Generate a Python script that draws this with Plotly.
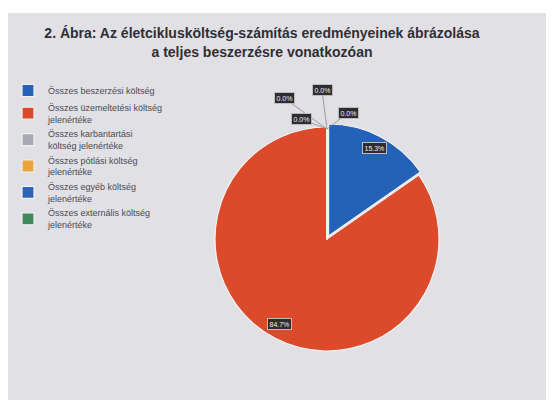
import math
import plotly.graph_objects as go

categories = [
    "Összes beszerzési költség",
    "Összes üzemeltetési költség<br>jelenértéke",
    "Összes karbantartási<br>költség jelenértéke",
    "Összes pótlási költség<br>jelenértéke",
    "Összes egyéb költség<br>jelenértéke",
    "Összes externális költség<br>jelenértéke",
]
values = [15.3, 84.7, 0.0, 0.0, 0.0, 0.0]
colors = ["#2462b8", "#dc4a2c", "#a9a9b3", "#eba23a", "#2f63b5", "#3f8a5a"]
title_text = ("2. Ábra: Az életciklusköltség-számítás eredményeinek ábrázolása"
              "<br>a teljes beszerzésre vonatkozóan")

W, H = 557, 406
cx, cy, R = 319, 231, 112
pull = 0.03
half = R * (1 + pull)

fig = go.Figure(go.Pie(
    labels=categories,
    values=values,
    sort=False,
    direction="clockwise",
    rotation=0,
    pull=[pull, 0, 0, 0, 0, 0],
    marker=dict(colors=colors, line=dict(color="#f2f2f4", width=1.2)),
    textinfo="none",
    hoverinfo="label+percent",
    domain=dict(x=[(cx - half) / W, (cx + half) / W],
                y=[(H - cy - half) / H, (H - cy + half) / H]),
))

annotations = []
total = sum(values)
start = 0.0
label_box = dict(bgcolor="#2e2c2e", bordercolor="#bdbdbd", borderwidth=1,
                 font=dict(size=7, color="#f0f0f0", family="Liberation Sans"),
                 borderpad=1.5)
zero_offsets = [(-43, -31), (-5, -39), (-26, -10), (21, -16)]
zi = 0
for v in values:
    frac = v / total
    if v > 0:
        mid = (start + frac / 2) * 2 * math.pi
        r = 0.92 * R
        px = cx + r * math.sin(mid)
        py = cy - r * math.cos(mid)
        annotations.append(dict(x=px / W, y=1 - py / H, xref="paper", yref="paper",
                                text=f"{v/total*100:.1f}%", showarrow=False, **label_box))
    else:
        ax, ay = zero_offsets[zi]
        zi += 1
        annotations.append(dict(x=cx / W, y=1 - (cy - R + 2) / H, xref="paper", yref="paper",
                                text=f"{v:.1f}%", showarrow=True, arrowhead=0,
                                arrowwidth=0.8, arrowcolor="#8a8a8a", ax=ax, ay=ay,
                                **label_box))
    start += frac

fig.update_layout(
    width=W, height=H,
    margin=dict(l=0, r=0, t=0, b=0),
    paper_bgcolor="#ffffff",
    title=dict(text=title_text, x=0.456, xanchor="center", y=0.925, yanchor="middle",
               font=dict(family="Liberation Sans, Arial", size=14,
                         color="#2f2f35", weight="bold")),
    legend=dict(x=0.0, y=1 - 68 / H, xanchor="left", yanchor="top",
                font=dict(family="Liberation Sans, Arial", size=9, color="#4a4a55"),
                tracegroupgap=0, bgcolor="rgba(0,0,0,0)"),
    annotations=annotations,
    shapes=[dict(type="rect", xref="paper", yref="paper", x0=0, x1=538 / W,
                 y0=1 - 392 / H, y1=1 - 5 / H, fillcolor="#e1e0e5",
                 line=dict(width=0), layer="below")],
)

fig.write_html("out.html")
